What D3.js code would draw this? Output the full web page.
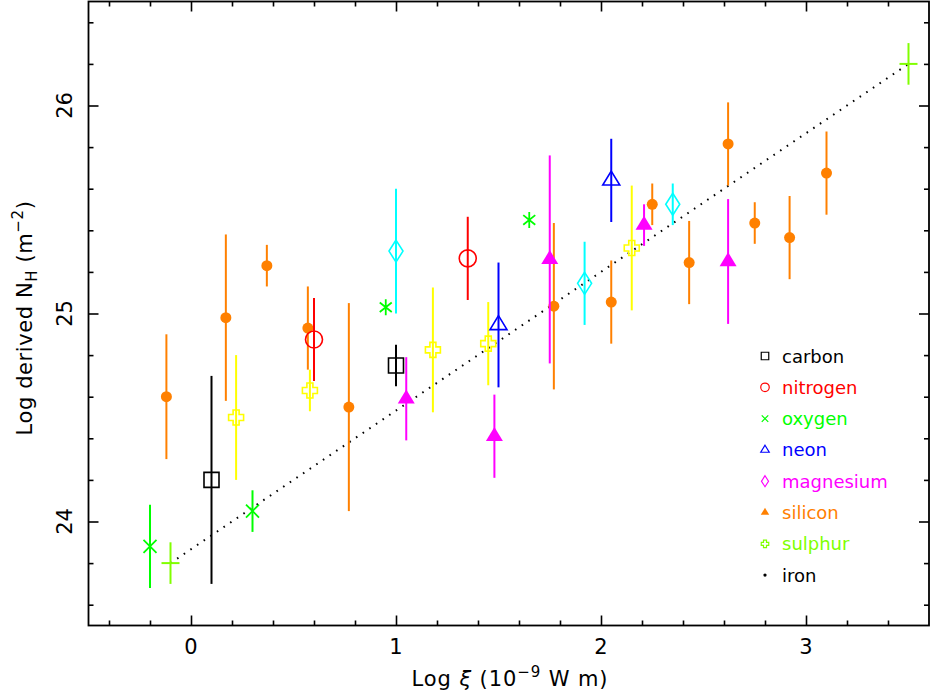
<!DOCTYPE html>
<html>
<head>
<meta charset="utf-8">
<script src="https://cdn.jsdelivr.net/npm/d3@7"></script>
<style>
  html, body { margin: 0; padding: 0; background: #fff; }
  svg { display: block; }
  text { font-family: "DejaVu Sans", sans-serif; }
</style>
</head>
<body>
<svg id="chart" width="931" height="692"></svg>
<script>
// ---------- data ----------
const xDomain = [-0.5, 3.6];
const yDomain = [23.5, 26.5];
const xMajorTicks = [0, 1, 2, 3];
const yMajorTicks = [24, 25, 26];
const xTickLabels = ["0", "1", "2", "3"];
const yTickLabels = ["24", "25", "26"];

// black open squares
const squareX = [0.10, 1.00];
const squareY = [24.20, 24.75];
const squareErr = [0.5, 0.1];
// red open circles
const openCircleX = [0.60, 1.35];
const openCircleY = [24.875, 25.265];
const openCircleErr = [0.2, 0.2];
// green crosses with error bars
const timesX = [-0.20, 0.30];
const timesY = [23.88, 24.05];
const timesErr = [0.2, 0.1];
// green asterisks (no error bars)
const asteriskX = [0.95, 1.65];
const asteriskY = [25.03, 25.45];
// blue open triangles
const openTriX = [1.50, 2.05];
const openTriY = [24.945, 25.64];
const openTriErr = [0.3, 0.2];
// cyan open diamonds
const diamondX = [1.00, 1.92, 2.35];
const diamondY = [25.30, 25.145, 25.525];
const diamondErr = [0.3, 0.2, 0.1];
// magenta filled triangles
const filledTriX = [1.05, 1.48, 1.75, 2.21, 2.62];
const filledTriY = [24.59, 24.41, 25.26, 25.425, 25.25];
const filledTriErr = [0.2, 0.2, 0.5, 0.1, 0.3];
// orange filled circles
const dotX = [-0.12, 0.17, 0.37, 0.57, 0.77, 1.77, 2.05, 2.25, 2.43, 2.62, 2.75, 2.92, 3.10];
const dotY = [24.60, 24.98, 25.23, 24.93, 24.55, 25.035, 25.055, 25.525, 25.245, 25.815, 25.435, 25.365, 25.675];
const dotErr = [0.3, 0.4, 0.1, 0.2, 0.5, 0.4, 0.2, 0.1, 0.2, 0.2, 0.1, 0.2, 0.2];
// yellow open Greek crosses
const greekX = [0.22, 0.58, 1.18, 1.45, 2.15];
const greekY = [24.50, 24.63, 24.825, 24.855, 25.315];
const greekErr = [0.3, 0.1, 0.3, 0.2, 0.3];
// chartreuse plus (end points)
const plusX = [-0.10, 3.50];
const plusY = [23.80, 26.20];
const plusErr = [0.1, 0.1];
// dotted relation
const fitX = [-0.10, 3.50];
const fitY = [23.80, 26.20];

// legend
const legendLabels = ["carbon", "nitrogen", "oxygen", "neon", "magnesium", "silicon", "sulphur", "iron"];
const legendColors = ["#000000", "#ff0000", "#00ff00", "#0000ff", "#ff00ff", "#ff8000", "#80ff00", "#000000"];
const legendShapes = ["square", "circle", "times", "openTri", "diamond", "filledTri", "greek", "dot"];

// ---------- layout ----------
const svg = d3.select("#chart");
const x = d3.scaleLinear().domain(xDomain).range([88.5, 929]);
const y = d3.scaleLinear().domain(yDomain).range([625.5, 1.5]);

// ---------- symbol paths (relative to centre, pixels) ----------
function shapePath(type, s) {
  switch (type) {
    case "square": { const h = 7.5 * s; return `M${-h},${-h}H${h}V${h}H${-h}Z`; }
    case "circle": { const r = 8.5 * s; return `M${r},0A${r},${r} 0 1,1 ${-r},0A${r},${r} 0 1,1 ${r},0Z`; }
    case "dot": { const r = 5.5 * s; return `M${r},0A${r},${r} 0 1,1 ${-r},0A${r},${r} 0 1,1 ${r},0Z`; }
    case "times": { const h = 6.5 * s; return `M${-h},${-h}L${h},${h}M${-h},${h}L${h},${-h}`; }
    case "asterisk": { const h = 6 * s, v = 8 * s; return `M${-h},${-h * 0.8}L${h},${h * 0.8}M${-h},${h * 0.8}L${h},${-h * 0.8}M0,${-v}V${v}`; }
    case "openTri": case "filledTri": {
      const w = 8.5 * s, hgt = 14 * s;
      return `M0,${-hgt * 2 / 3}L${w},${hgt / 3}L${-w},${hgt / 3}Z`;
    }
    case "diamond": { const w = 7 * s, h = 11 * s; return `M0,${-h}L${w},0L0,${h}L${-w},0Z`; }
    case "greek": {
      const a = 7.5 * s, b = 3 * s;
      return `M${-b},${-a}H${b}V${-b}H${a}V${b}H${b}V${a}H${-b}V${b}H${-a}V${-b}H${-b}Z`;
    }
    case "plus": { const h = 9 * s; return `M${-h},0H${h}`; }
  }
}
const filledShapes = new Set(["dot", "filledTri"]);
const lineShapes = new Set(["times", "asterisk", "plus"]);

// ---------- frame & ticks ----------
const g = svg.append("g");
const minorX = d3.range(-0.4, 3.5, 0.2).map(v => +v.toFixed(2));
const minorY = d3.range(23.6, 26.5, 0.2).map(v => +v.toFixed(2));
const isMajor = v => Math.abs(v - Math.round(v)) < 1e-6;

function addAxis(axisGen, transform, ticks) {
  const a = g.append("g").attr("transform", transform)
    .call(axisGen.tickValues(ticks).tickFormat("").tickSizeOuter(0));
  a.select(".domain").remove();
  a.selectAll(".tick line").attr("stroke", "#000").attr("stroke-width", 1.6);
  return a;
}
const bottomA = addAxis(d3.axisBottom(x).tickSize(-5), `translate(0,${y(23.5)})`, minorX);
bottomA.selectAll(".tick line").filter(d => isMajor(d)).attr("y2", -10);
const topA = addAxis(d3.axisTop(x).tickSize(-5), `translate(0,${y(26.5)})`, minorX);
topA.selectAll(".tick line").filter(d => isMajor(d)).attr("y2", 10);
const leftA = addAxis(d3.axisLeft(y).tickSize(-5), `translate(${x(-0.5)},0)`, minorY);
leftA.selectAll(".tick line").filter(d => isMajor(d)).attr("x2", 10);
const rightA = addAxis(d3.axisRight(y).tickSize(-5), `translate(${x(3.6)},0)`, minorY);
rightA.selectAll(".tick line").filter(d => isMajor(d)).attr("x2", -10);

g.append("rect")
  .attr("x", x(-0.5)).attr("y", y(26.5))
  .attr("width", x(3.6) - x(-0.5)).attr("height", y(23.5) - y(26.5))
  .attr("fill", "none").attr("stroke", "#000").attr("stroke-width", 1.8);

// tick labels
g.selectAll(".xl").data(xMajorTicks).enter().append("text")
  .attr("x", d => x(d)).attr("y", 654)
  .attr("text-anchor", "middle").attr("font-size", 21)
  .text((d, i) => xTickLabels[i]);
g.selectAll(".yl").data(yMajorTicks).enter().append("text")
  .attr("transform", d => `translate(72,${y(d)}) rotate(-90)`)
  .attr("text-anchor", "middle").attr("font-size", 21)
  .text((d, i) => yTickLabels[i]);

// axis titles
const xt = g.append("text").attr("x", 510).attr("y", 686)
  .attr("text-anchor", "middle").attr("font-size", 21).attr("letter-spacing", 0.9);
xt.append("tspan").text("Log ");
xt.append("tspan").attr("font-style", "italic").text("ξ");
xt.append("tspan").text(" (10");
xt.append("tspan").attr("font-size", 15).attr("dy", -9).text("−9");
xt.append("tspan").attr("dy", 9).text(" W m)");

const yt = g.append("text").attr("transform", "translate(32,318) rotate(-90)")
  .attr("text-anchor", "middle").attr("font-size", 21).attr("letter-spacing", 0.6);
yt.append("tspan").text("Log derived N");
yt.append("tspan").attr("font-size", 15).attr("dy", 5).text("H");
yt.append("tspan").attr("dy", -5).text(" (m");
yt.append("tspan").attr("font-size", 15).attr("dy", -9).text("−2");
yt.append("tspan").attr("dy", 9).text(")");

// ---------- dotted relation ----------
g.append("path")
  .datum(d3.zip(fitX, fitY))
  .attr("d", d3.line().x(d => x(d[0])).y(d => y(d[1])))
  .attr("fill", "none").attr("stroke", "#000")
  .attr("stroke-width", 2).attr("stroke-dasharray", "1.6,6.4");

// ---------- series ----------
function drawSeries(xs, ys, errs, shape, color, sw) {
  const data = xs.map((v, i) => ({ x: v, y: ys[i], e: errs ? errs[i] : 0 }));
  const sg = g.append("g");
  if (errs) {
    sg.selectAll(".eb").data(data).enter().append("line")
      .attr("x1", d => x(d.x)).attr("x2", d => x(d.x))
      .attr("y1", d => y(d.y - d.e)).attr("y2", d => y(d.y + d.e))
      .attr("stroke", color).attr("stroke-width", 2);
  }
  sg.selectAll(".mk").data(data).enter().append("path")
    .attr("transform", d => `translate(${x(d.x)},${y(d.y)})`)
    .attr("d", shapePath(shape, 1))
    .attr("fill", filledShapes.has(shape) ? color : (lineShapes.has(shape) ? "none" : "#fff"))
    .attr("fill-opacity", filledShapes.has(shape) ? 1 : 0)
    .attr("stroke", filledShapes.has(shape) ? "none" : color)
    .attr("stroke-width", sw);
}
drawSeries(dotX, dotY, dotErr, "dot", "#ff8000", 0);
drawSeries(greekX, greekY, greekErr, "greek", "#ffff00", 1.6);
drawSeries(squareX, squareY, squareErr, "square", "#000000", 1.6);
drawSeries(openCircleX, openCircleY, openCircleErr, "circle", "#ff0000", 1.6);
drawSeries(timesX, timesY, timesErr, "times", "#00ff00", 1.8);
drawSeries(asteriskX, asteriskY, null, "asterisk", "#00ff00", 1.8);
drawSeries(openTriX, openTriY, openTriErr, "openTri", "#0000ff", 1.6);
drawSeries(diamondX, diamondY, diamondErr, "diamond", "#00ffff", 1.6);
drawSeries(filledTriX, filledTriY, filledTriErr, "filledTri", "#ff00ff", 0);
drawSeries(plusX, plusY, plusErr, "plus", "#80ff00", 2);

// ---------- legend ----------
const lg = g.append("g");
legendLabels.forEach((lab, i) => {
  const cy = 356 + i * 31.3;
  const shp = legendShapes[i];
  const filled = filledShapes.has(shp);
  lg.append("path")
    .attr("transform", `translate(765,${cy})`)
    .attr("d", shp === "dot" ? shapePath("dot", 0.3) : shapePath(shp, 0.5))
    .attr("fill", filled ? legendColors[i] : "none")
    .attr("stroke", filled ? "none" : legendColors[i])
    .attr("stroke-width", 1.2);
  lg.append("text").attr("x", 782).attr("y", cy + 6.5)
    .attr("font-size", 18).attr("fill", legendColors[i]).text(lab);
});
</script>
</body>
</html>
